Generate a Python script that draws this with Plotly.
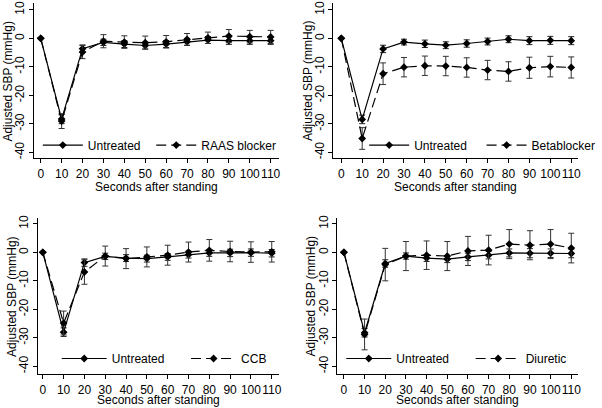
import plotly.graph_objects as go

# ---------------- data ----------------
seconds = [0, 10, 20, 30, 40, 50, 60, 70, 80, 90, 100, 110]
x_tick_labels = ["0", "10", "20", "30", "40", "50", "60", "70", "80", "90", "100", "110"]
y_tick_values = [-40, -30, -20, -10, 0, 10]
y_tick_labels = ["-40", "-30", "-20", "-10", "0", "10"]

# Panel 1: Untreated vs RAAS blocker
untreated_raas = [0, -28.3, -3.6, -1.4, -2.0, -2.5, -2.0, -1.2, -0.6, -0.8, -0.8, -0.8]
untreated_raas_ci = [0, 1.6, 1.3, 1.1, 1.2, 1.2, 1.2, 1.2, 1.2, 1.3, 1.3, 1.3]
raas = [0, -29.0, -4.8, -1.0, -1.3, -1.5, -1.2, -0.4, 0.2, 0.8, 0.6, 0.5]
raas_ci = [0, 2.6, 2.3, 2.3, 2.2, 2.3, 2.2, 2.1, 2.0, 2.3, 2.2, 2.3]

# Panel 2: Untreated vs Betablocker
untreated_bb = [0, -28.4, -3.7, -1.3, -1.9, -2.4, -1.8, -1.1, -0.3, -0.8, -0.7, -0.8]
untreated_bb_ci = [0, 1.5, 1.3, 1.0, 1.3, 1.2, 1.3, 1.2, 1.2, 1.4, 1.4, 1.4]
betablocker = [0, -35.1, -12.4, -10.1, -9.6, -9.7, -10.2, -11.1, -11.6, -10.3, -9.9, -10.2]
betablocker_ci = [0, 3.8, 3.8, 3.4, 3.4, 3.4, 3.4, 3.4, 3.4, 3.7, 3.6, 3.7]

# Panel 3: Untreated vs CCB
untreated_ccb = [0, -28.0, -3.6, -1.4, -2.0, -2.2, -1.6, -0.8, -0.2, -0.2, -0.1, -0.3]
untreated_ccb_ci = [0, 1.5, 1.3, 1.1, 1.2, 1.2, 1.2, 1.2, 1.2, 1.3, 1.3, 1.3]
ccb = [0, -24.8, -6.9, -1.3, -2.2, -1.6, -1.0, 0.1, 0.7, 0.3, 0.1, 0.2]
ccb_ci = [0, 4.2, 4.3, 3.5, 3.5, 3.5, 3.5, 3.5, 3.8, 3.6, 3.6, 3.6]

# Panel 4: Untreated vs Diuretic
untreated_diu = [0, -28.2, -3.9, -1.3, -2.0, -2.4, -1.6, -1.0, -0.2, -0.3, -0.3, -0.4]
untreated_diu_ci = [0, 1.5, 1.3, 1.1, 1.2, 1.2, 1.3, 1.3, 1.4, 1.6, 1.5, 1.5]
diuretic = [0, -28.8, -4.3, -1.3, -1.0, -1.3, 0.5, 0.8, 2.9, 2.5, 2.9, 1.5]
diuretic_ci = [0, 5.4, 5.7, 5.1, 5.0, 5.1, 5.1, 5.2, 5.1, 5.1, 5.1, 5.2]

base_name = "Untreated"
y_title = "Adjusted SBP (mmHg)"
x_title = "Seconds after standing"

# ---------------- layout (pixels) ----------------
W, H = 602, 408
FONT = "Liberation Sans, Arial, sans-serif"

panels = [
    dict(base=untreated_raas, base_ci=untreated_raas_ci, trt=raas, trt_ci=raas_ci, trt_name="RAAS blocker",
         xpx=(34, 280), ypx=(0, 157), xr=(-3.3, 113.8), yr=(-42.1, 12.4),
         leg_y=143.5, leg_x=(38, 152), itemw=40, xt_shift=-29),
    dict(base=untreated_bb, base_ci=untreated_bb_ci, trt=betablocker, trt_ci=betablocker_ci, trt_name="Betablocker",
         xpx=(335, 581), ypx=(0, 157), xr=(-3.8, 113.3), yr=(-42.1, 12.4),
         leg_y=143.5, leg_x=(366, 484), itemw=40, xt_shift=-29),
    dict(base=untreated_ccb, base_ci=untreated_ccb_ci, trt=ccb, trt_ci=ccb_ci, trt_name="CCB",
         xpx=(38, 280), ypx=(217, 375), xr=(-2.4, 113.3), yr=(-42.8, 12.1),
         leg_y=359, leg_x=(57, 187), itemw=45, xt_shift=-26),
    dict(base=untreated_diu, base_ci=untreated_diu_ci, trt=diuretic, trt_ci=diuretic_ci, trt_name="Diuretic",
         xpx=(339, 581), ypx=(217, 375), xr=(-3.2, 113.3), yr=(-42.8, 12.1),
         leg_y=359, leg_x=(343, 473), itemw=45, xt_shift=-26),
]

fig = go.Figure()
layout = dict(
    width=W, height=H, margin=dict(l=0, r=0, t=0, b=0),
    paper_bgcolor="white", plot_bgcolor="white",
    font=dict(family=FONT, size=12, color="black"),
    showlegend=True, annotations=[],
)

leg_idx = 0
for i, p in enumerate(panels, start=1):
    xa = "x" if i == 1 else f"x{i}"
    ya = "y" if i == 1 else f"y{i}"
    for j, (yy, ci, name, dash, ecol) in enumerate([
        (p["base"], p["base_ci"], base_name, "solid", "#222222"),
        (p["trt"], p["trt_ci"], p["trt_name"], "10px,5px", "#333333"),
    ]):
        leg_idx += 1
        lname = "legend" if leg_idx == 1 else f"legend{leg_idx}"
        fig.add_trace(go.Scatter(
            x=seconds, y=yy, name=name, mode="lines+markers",
            xaxis=xa, yaxis=ya, legend=lname,
            line=dict(color="black", width=1.2, dash=dash),
            marker=dict(symbol="diamond", size=6, color="black"),
            error_y=dict(type="data", array=ci, visible=True, thickness=1, width=3, color=ecol),
            hoverinfo="skip",
        ))
        layout[lname] = dict(
            x=p["leg_x"][j] / W, xanchor="left",
            y=1 - p["leg_y"] / H, yanchor="middle",
            bgcolor="rgba(0,0,0,0)", borderwidth=0,
            font=dict(family=FONT, size=12, color="black"),
            itemwidth=p["itemw"], itemclick=False,
        )
    xkey = "xaxis" if i == 1 else f"xaxis{i}"
    ykey = "yaxis" if i == 1 else f"yaxis{i}"
    layout[xkey] = dict(
        domain=[p["xpx"][0] / W, p["xpx"][1] / W], range=list(p["xr"]), anchor=ya,
        tickmode="array", tickvals=seconds, ticktext=x_tick_labels, tickangle=0,
        showline=True, linecolor="black", linewidth=1, ticks="outside", ticklen=4,
        tickcolor="black", tickwidth=1, showgrid=False, zeroline=False,
        tickfont=dict(family=FONT, size=12, color="black"),
    )
    layout[ykey] = dict(
        domain=[1 - p["ypx"][1] / H, 1 - p["ypx"][0] / H], range=list(p["yr"]), anchor=xa,
        tickmode="array", tickvals=y_tick_values, ticktext=y_tick_labels, tickangle=-90,
        showline=True, linecolor="black", linewidth=1, ticks="outside", ticklen=4,
        tickcolor="black", tickwidth=1, showgrid=False, zeroline=False,
        tickfont=dict(family=FONT, size=12, color="black"),
    )
    layout["annotations"].append(dict(
        text=y_title, textangle=-90, showarrow=False,
        xref=f"{xa} domain", x=0, xanchor="center", xshift=-26,
        yref=f"{ya} domain", y=0.5, yanchor="middle",
        font=dict(family=FONT, size=12, color="black"),
    ))
    layout["annotations"].append(dict(
        text=x_title, showarrow=False,
        xref=f"{xa} domain", x=0.5, xanchor="center",
        yref=f"{ya} domain", y=0, yanchor="middle", yshift=p["xt_shift"],
        font=dict(family=FONT, size=12, color="black"),
    ))

fig.update_layout(**layout)
fig.write_html(
    "out.html",
    config={"displayModeBar": False, "staticPlot": True},
    post_script="document.body.style.margin='0px';document.body.style.padding='0px';",
)
